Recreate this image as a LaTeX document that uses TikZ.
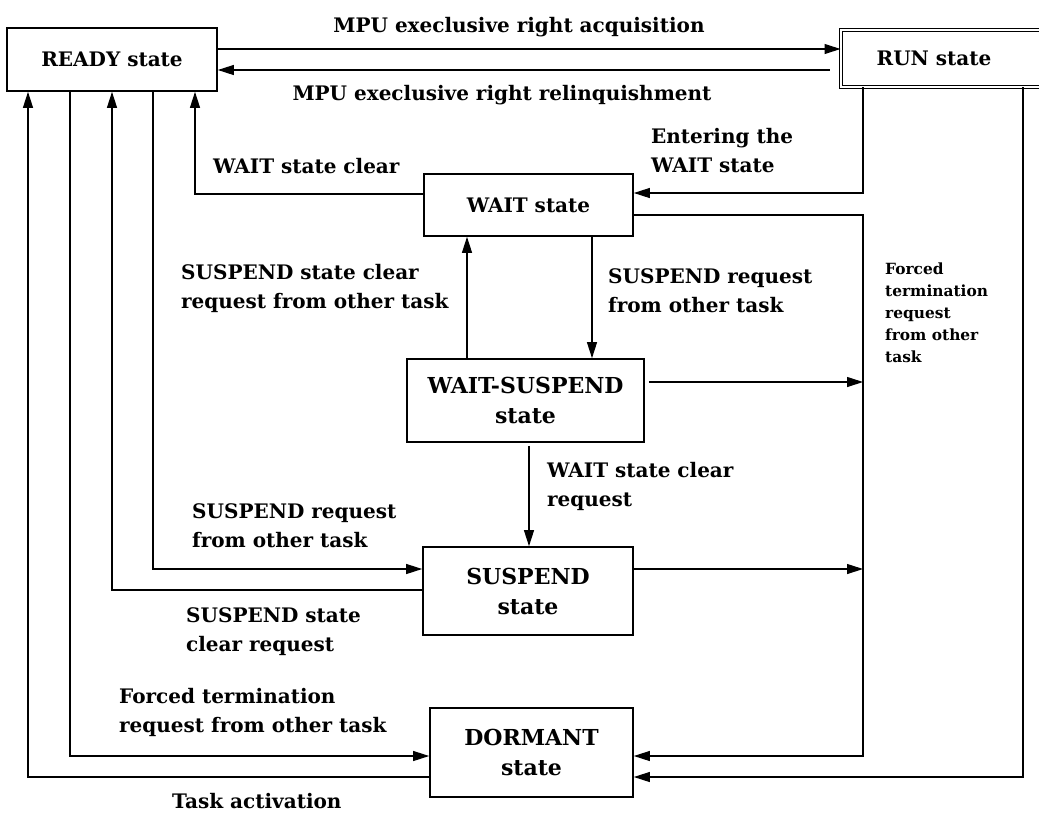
\documentclass[tikz,border=0pt]{standalone}
\usepackage{fontspec}
\setmainfont{DejaVu Serif}
\usetikzlibrary{arrows.meta}
\newcommand{\labeltext}{\fontsize{20pt}{29pt}\selectfont\bfseries}
\newcommand{\boxtext}{\fontsize{20pt}{30pt}\selectfont\bfseries}
\newcommand{\bigboxtext}{\fontsize{22pt}{30pt}\selectfont\bfseries}
\newcommand{\smalltext}{\fontsize{15.4pt}{22pt}\selectfont\bfseries}
\begin{document}
\begin{tikzpicture}[x=1pt, y=-1pt,
  state/.style={draw, line width=1.7pt, inner sep=0pt, align=center, font=\boxtext},
  bigstate/.style={state, font=\bigboxtext},
  conn/.style={line width=1.1pt},
  arr/.style={conn, -{Triangle[length=16pt,width=10pt]}},
  lbl/.style={inner sep=0pt, align=left, font=\labeltext, anchor=north west},
  smalllbl/.style={lbl, font=\smalltext}]
\useasboundingbox (0,0) rectangle (1039,812);
\clip (0,0) rectangle (1039,812);

% task states
\node[state, minimum width=210pt, minimum height=63pt] (ready) at (112,59.5) {READY state};
\node[state, double, double distance=2pt, line width=1pt, minimum width=204pt, minimum height=56.5pt] (run) at (943,58.25) {RUN state\hspace{18pt}};
\node[state, minimum width=209pt, minimum height=62pt] (wait) at (528.5,205) {WAIT state};
\node[bigstate, minimum width=237pt, minimum height=83pt] (ws) at (525.5,400.5) {WAIT-SUSPEND\\state};
\node[bigstate, minimum width=210pt, minimum height=88pt] (susp) at (528,591) {SUSPEND\\state};
\node[bigstate, minimum width=203pt, minimum height=89pt] (dorm) at (531.5,752.5) {DORMANT\\state};

% vertical routing columns
\coordinate (xA) at (28,0);
\coordinate (xB) at (70,0);
\coordinate (xC) at (112,0);
\coordinate (xD) at (153,0);
\coordinate (xE) at (195,0);
\coordinate (xL) at (467,0);
\coordinate (xM) at (529,0);
\coordinate (xR) at (592,0);
\coordinate (xF) at (863,0);
\coordinate (xG) at (1023,0);

% transitions
\draw[arr] (ready.east |- 0,49) -- (run.west |- 0,49);
\draw[arr, shorten <=11pt] (run.west |- 0,70) -- (ready.east |- 0,70);
\draw[arr] (run.south -| xF) |- (wait.east |- 0,193);
\draw[arr] (run.south -| xG) |- (dorm.east |- 0,777);
\draw[arr] (wait.east |- 0,215) -| (xF |- 0,756) -- (dorm.east |- 0,756);
\draw[arr, shorten <=4pt] (ws.east |- 0,382) -- (xF |- 0,382);
\draw[arr] (susp.east |- 0,569) -- (xF |- 0,569);
\draw[arr] (wait.south -| xR) -- (ws.north -| xR);
\draw[arr] (ws.north -| xL) -- (wait.south -| xL);
\draw[arr, shorten <=3pt] (ws.south -| xM) -- (susp.north -| xM);
\draw[arr] (wait.west |- 0,194) -| (ready.south -| xE);
\draw[arr] (ready.south -| xD) |- (susp.west |- 0,569);
\draw[arr] (susp.west |- 0,590) -| (ready.south -| xC);
\draw[arr] (ready.south -| xB) |- (dorm.west |- 0,756);
\draw[arr] (dorm.west |- 0,777) -| (ready.south -| xA);

% transition labels
\node[lbl, anchor=base] (acq) at (519,32) {MPU execlusive right acquisition};
\node[lbl, anchor=base] (rel) at (502,100) {MPU execlusive right relinquishment};
\node[lbl, anchor=base west] (wclr) at (213,173) {WAIT state clear};
\node[lbl] (enter) at (651,128) {Entering the\\WAIT state};
\node[lbl] (sclrw) at (181,264) {SUSPEND state clear\\request from other task};
\node[lbl] (sreqw) at (608,268) {SUSPEND request\\from other task};
\node[smalllbl] (forced) at (885,263) {Forced\\termination\\request\\from other\\task};
\node[lbl] (wclrs) at (547,462) {WAIT state clear\\request};
\node[lbl] (sreqr) at (192,503) {SUSPEND request\\from other task};
\node[lbl] (sclrr) at (186,607) {SUSPEND state\\clear request};
\node[lbl] (forcedr) at (119,688) {Forced termination\\request from other task};
\node[lbl, anchor=base west] (act) at (172,808) {Task activation};
\end{tikzpicture}
\end{document}
